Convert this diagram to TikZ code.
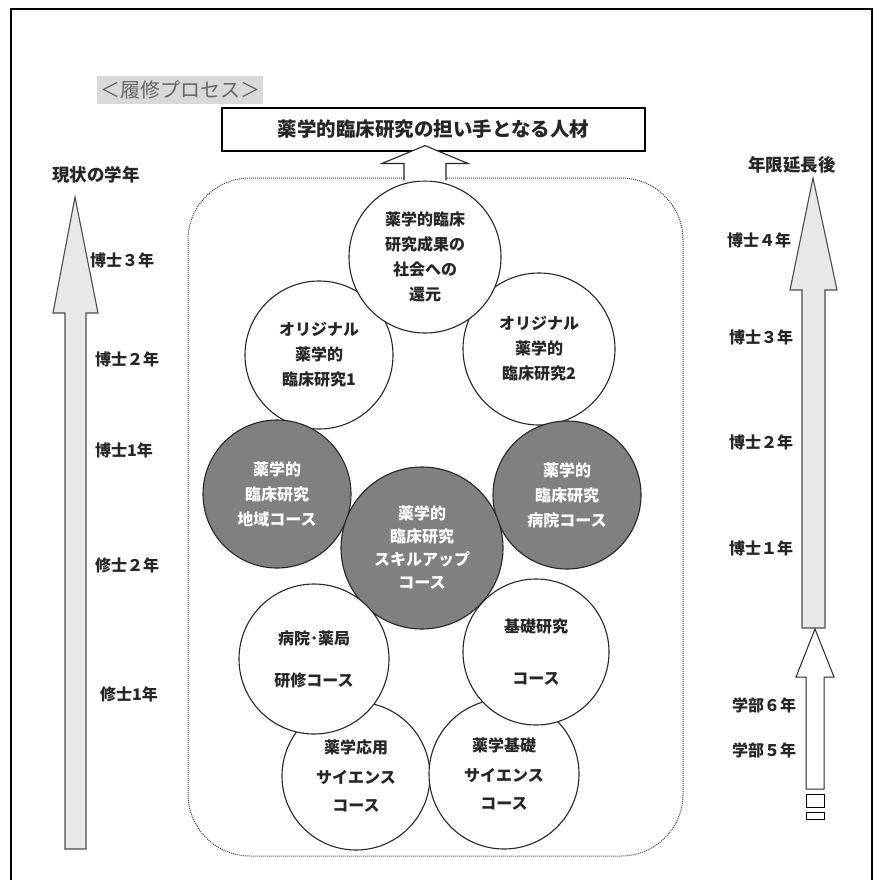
\documentclass[tikz,border=0pt]{standalone}
\usepackage{fontspec}
\newfontfamily\jp{Noto Sans CJK JP}
\usetikzlibrary{calc}
\begin{document}
\begin{tikzpicture}[x=1pt,y=-1pt,
  circw/.style={circle, draw=black!85, line width=1.1pt, fill=white, inner sep=0pt, align=center,
     font=\jp\bfseries\fontsize{16}{25}\selectfont, text=black!85},
  circd/.style={circw, fill=black!50, text=white},
  lbl/.style={anchor=west, inner sep=0pt, font=\jp\bfseries\fontsize{16}{18}\selectfont, text=black!85},
  hdr/.style={lbl, font=\jp\bfseries\fontsize{17.5}{20}\selectfont},
  bigarrow/.style={draw=black!70, line width=1.1pt, fill=black!9, line join=miter},
  hollow/.style={draw=black!85, line width=1.1pt, fill=white}
]
\useasboundingbox (0,0) rectangle (878,880);
\fill[white] (0,0) rectangle (878,880);
% frame
\draw[line width=2pt] (11,880) -- (11,9) -- (872,9) -- (872,880);

% title label
\node[fill=black!15, text=black!60, minimum width=166, minimum height=28, inner sep=0pt,
      font=\jp\fontsize{20}{22}\selectfont] (proc) at (180,90) {＜履修プロセス＞};

% goal box
\node[draw=black, line width=1.2pt, minimum width=423, minimum height=43, inner sep=0pt,
      font=\jp\bfseries\fontsize{19.5}{22}\selectfont, text=black!85] (goal) at (433.5,129.5)
      {薬学的臨床研究の担い手となる人材};

% dotted container
\draw[black!75, densely dotted, line width=1pt, rounded corners=62] (188,178) rectangle (683,856);

% circles (drawing order matters)
\node[circw, minimum size=148] (o1) at (319,355) {オリジナル\\薬学的\\臨床研究1};
\node[circw, minimum size=152] (o2) at (539,349) {オリジナル\\薬学的\\臨床研究2};
\node[circw, minimum size=152] (top) at (425,257) {薬学的臨床\\研究成果の\\社会への\\還元};

\node[circd, minimum size=148] (dl) at (277,494) {薬学的\\臨床研究\\地域コース};
\node[circd, minimum size=148] (dr) at (567,495) {薬学的\\臨床研究\\病院コース};
\node[circd, minimum size=162, font=\jp\bfseries\fontsize{16}{23}\selectfont] (dc) at (422,548) {薬学的\\臨床研究\\スキルアップ\\コース};

\node[circw, minimum size=148] (ouyo) at (356,776) {薬学応用\\[5pt]サイエンス\\[3pt]コース};
\node[circw, minimum size=150] (ksci) at (504,774) {薬学基礎\\[5pt]サイエンス\\[3pt]コース};
\node[circw, minimum size=150] (hosp) at (314,659) {病院･薬局\\[17pt]研修コース};
\node[circw, minimum size=146] (kiso) at (536,652) {基礎研究\\[27pt]コース};

% hollow arrow from top circle to goal box
\draw[hollow] ($(top.north)+(-21,0)$) -- ($(top.north)+(-21,-17)$) -- ($(top.north)+(-43,-17)$)
   -- ($(goal.south)+(-8.5,-6)$) -- ($(top.north)+(43,-17)$) -- ($(top.north)+(21,-17)$)
   -- ($(top.north)+(21,0)$);

% left arrow
\draw[bigarrow] (65,849) -- (65,313) -- (53,313) -- (75,197) -- (98,313) -- (86,313) -- (86,849) -- cycle;
\node[hdr] (curL) at (52,175) {現状の学年};
\node[lbl] (l1) at (90,260) {博士３年};
\node[lbl] (l2) at (95,359) {博士２年};
\node[lbl] (l3) at (95,450) {博士1年};
\node[lbl] (l4) at (95,565) {修士２年};
\node[lbl] (l5) at (100,694) {修士1年};

% right arrows
\draw[bigarrow] (802,628) -- (802,290) -- (790,290) -- (813,178) -- (837,290) -- (825,290) -- (825,628) -- cycle;
\draw[hollow, line width=1pt] (806,789) -- (806,677) -- (796,677) -- (815,629) -- (834,677) -- (824,677) -- (824,789) -- cycle;
\draw[line width=1pt] (806,794) rectangle (824,807);
\draw[line width=1pt] (806,812) rectangle (824,819);
\node[hdr] (extR) at (748,165) {年限延長後};
\node[lbl] (r1) at (727,240) {博士４年};
\node[lbl] (r2) at (729,337) {博士３年};
\node[lbl] (r3) at (729,442) {博士２年};
\node[lbl] (r4) at (729,548) {博士１年};
\node[lbl] (r5) at (732,705) {学部６年};
\node[lbl] (r6) at (732,750) {学部５年};
\end{tikzpicture}
\end{document}
